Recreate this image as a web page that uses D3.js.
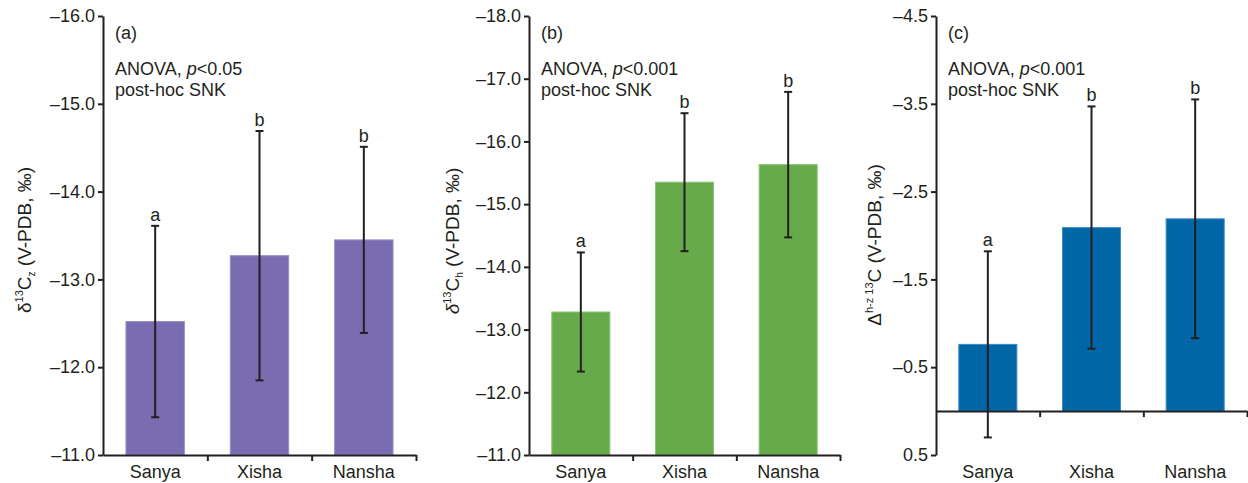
<!DOCTYPE html>
<html>
<head>
<meta charset="utf-8">
<script src="https://cdn.jsdelivr.net/npm/d3@7"></script>
<style>
  body { margin: 0; background: #fff; }
  svg { display: block; font-family: "Liberation Sans", Arial, sans-serif; }
  .axis path, .axis line { stroke: #231f20; stroke-width: 2; }
  .axis text { font-size: 18px; fill: #231f20; font-family: "Liberation Sans", Arial, sans-serif; }
</style>
</head>
<body>
<div id="chart"></div>
<script>
// Chart data
const sites = ['Sanya', 'Xisha', 'Nansha']
const letters = ['a', 'b', 'b']

// (a) delta13C zooxanthellae
const meanA = [-12.52, -13.27, -13.45]
const sdA = [1.09, 1.42, 1.06]
const ticksA = [-16, -15, -14, -13, -12, -11]

// (b) delta13C host
const meanB = [-13.28, -15.35, -15.63]
const sdB = [0.95, 1.10, 1.16]
const ticksB = [-18, -17, -16, -15, -14, -13, -12, -11]

// (c) host - zooxanthellae difference
const meanC = [-0.76, -2.09, -2.19]
const sdC = [1.06, 1.38, 1.36]
const ticksC = [-4.5, -3.5, -2.5, -1.5, -0.5, 0.5]

const width = 1248
const height = 483
const plotTop = 16
const plotBottom = 455

const svg = d3.select('#chart')
  .append('svg')
  .attr('width', width)
  .attr('height', height)

const fmt = (d, digits) => (d < 0 ? '\u2013' : '') + Math.abs(d).toFixed(digits)

function panel(opts) {
  const g = svg.append('g')
  const y = d3.scaleLinear()
    .domain([opts.ticks[0], opts.ticks[opts.ticks.length - 1]])
    .range([plotTop, plotBottom])
  const x = d3.scaleBand()
    .domain(sites)
    .range([opts.x0, opts.x1])
    .paddingInner(0.44)
    .paddingOuter(0.22)
  const base = opts.base
  const yBase = y(base)

  // bars
  g.selectAll('rect.bar')
    .data(opts.mean)
    .join('rect')
    .attr('class', 'bar')
    .attr('x', (d, i) => x(sites[i]))
    .attr('width', x.bandwidth())
    .attr('y', d => Math.min(y(d), yBase))
    .attr('height', d => Math.abs(y(d) - yBase))
    .attr('fill', opts.color)
    .attr('stroke', opts.edge)
    .attr('stroke-width', 1)

  // error bars
  const cx = i => x(sites[i]) + x.bandwidth() / 2
  const eb = g.selectAll('g.err')
    .data(opts.mean)
    .join('g')
    .attr('class', 'err')
  eb.append('line')
    .attr('x1', (d, i) => cx(i)).attr('x2', (d, i) => cx(i))
    .attr('y1', (d, i) => y(d - opts.sd[i]))
    .attr('y2', (d, i) => y(d + opts.sd[i]))
  eb.append('line')
    .attr('x1', (d, i) => cx(i) - 4).attr('x2', (d, i) => cx(i) + 4)
    .attr('y1', (d, i) => y(d - opts.sd[i])).attr('y2', (d, i) => y(d - opts.sd[i]))
  eb.append('line')
    .attr('x1', (d, i) => cx(i) - 4).attr('x2', (d, i) => cx(i) + 4)
    .attr('y1', (d, i) => y(d + opts.sd[i])).attr('y2', (d, i) => y(d + opts.sd[i]))
  eb.selectAll('line').attr('stroke', '#231f20').attr('stroke-width', 2)

  // significance letters
  g.selectAll('text.sig')
    .data(opts.mean)
    .join('text')
    .attr('class', 'sig')
    .attr('x', (d, i) => cx(i))
    .attr('y', (d, i) => y(d - opts.sd[i]) - 5)
    .attr('text-anchor', 'middle')
    .attr('font-size', 18)
    .attr('fill', '#231f20')
    .text((d, i) => letters[i])

  // y axis
  g.append('g')
    .attr('class', 'axis')
    .attr('transform', `translate(${opts.x0},0)`)
    .call(d3.axisLeft(y).tickValues(opts.ticks).tickSize(5).tickSizeOuter(0).tickPadding(3)
      .tickFormat(d => fmt(d, 1)))

  // x axis (ticks at band edges)
  const xe = d3.scaleLinear().domain([0, 3]).range([opts.x0, opts.x1])
  g.append('g')
    .attr('class', 'axis')
    .attr('transform', `translate(0,${yBase})`)
    .call(d3.axisBottom(xe).tickValues([1, 2, 3]).tickSize(6).tickSizeOuter(0).tickFormat(''))

  // category labels
  g.selectAll('text.cat')
    .data(sites)
    .join('text')
    .attr('class', 'cat')
    .attr('x', d => x(d) + x.bandwidth() / 2)
    .attr('y', 478)
    .attr('text-anchor', 'middle')
    .attr('font-size', 18)
    .attr('fill', '#231f20')
    .text(d => d)

  // annotations
  g.append('text').attr('x', opts.x0 + 12).attr('y', 39).attr('font-size', 18).attr('fill', '#231f20').text(opts.tag)
  const an = g.append('text').attr('x', opts.x0 + 12).attr('y', 75).attr('font-size', 18).attr('fill', '#231f20')
  an.append('tspan').text('ANOVA, ')
  an.append('tspan').attr('font-style', 'italic').text('p')
  an.append('tspan').text(opts.p)
  g.append('text').attr('x', opts.x0 + 12).attr('y', 96).attr('font-size', 18).attr('fill', '#231f20').text('post-hoc SNK')

  // y label
  const yl = g.append('text')
    .attr('transform', `translate(${opts.lx},${opts.ly}) rotate(-90)`)
    .attr('text-anchor', 'middle')
    .attr('font-size', 19)
    .attr('fill', '#231f20')
  opts.label(yl)
}

panel({
  x0: 103, x1: 416, ticks: ticksA, mean: meanA, sd: sdA, base: -11,
  color: '#796cb0', edge: '#9a90c6', tag: '(a)', p: '<0.05',
  lx: 31, ly: 240,
  label: t => {
    t.append('tspan').text('\u03b4')
    t.append('tspan').attr('font-size', 11).attr('dy', -8).text('13')
    t.append('tspan').attr('dy', 8).text('C')
    t.append('tspan').attr('font-size', 10).attr('dy', 4).text('z')
    t.append('tspan').attr('dy', -4).text(' (V-PDB, \u2030)')
  }
})

panel({
  x0: 529, x1: 840, ticks: ticksB, mean: meanB, sd: sdB, base: -11,
  color: '#67aa4b', edge: '#8cc476', tag: '(b)', p: '<0.001',
  lx: 459, ly: 241,
  label: t => {
    t.append('tspan').attr('font-style', 'italic').text('\u03b4')
    t.append('tspan').attr('font-size', 11).attr('dy', -8).text('13')
    t.append('tspan').attr('dy', 8).text('C')
    t.append('tspan').attr('font-size', 10).attr('dy', 4).text('h')
    t.append('tspan').attr('dy', -4).text(' (V-PDB, \u2030)')
  }
})

panel({
  x0: 936, x1: 1247, ticks: ticksC, mean: meanC, sd: sdC, base: 0,
  color: '#0066a6', edge: '#3d8cc4', tag: '(c)', p: '<0.001',
  lx: 881, ly: 245,
  label: t => {
    t.append('tspan').text('\u0394')
    t.append('tspan').attr('font-size', 11).attr('dy', -8).text('h-z 13')
    t.append('tspan').attr('dy', 8).text('C (V-PDB, \u2030)')
  }
})
</script>
</body>
</html>
